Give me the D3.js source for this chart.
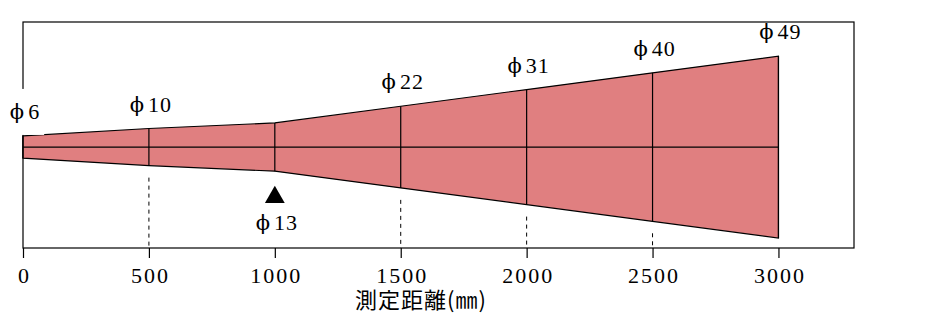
<!DOCTYPE html>
<html>
<head>
<meta charset="utf-8">
<script src="https://cdn.jsdelivr.net/npm/d3@7"></script>
<style>
  body { margin: 0; background: #fff; }
  svg text { font-family: "Liberation Serif", "Noto Sans CJK JP", serif; fill: #000; }
</style>
</head>
<body>
<svg id="chart" width="945" height="315"></svg>
<script>
// measuring distance (mm) and spot diameter (mm)
const distances = [0, 500, 1000, 1500, 2000, 2500, 3000];
const diameters = [6, 10, 13, 22, 31, 40, 49];
const tickValues = [0, 500, 1000, 1500, 2000, 2500, 3000];
const dashedAt = [500, 1500, 2000, 2500];
const markerDistance = 1000;   // label drawn below with a triangle
const xLabel = "測定距離(㎜)";

let SVG = d3.select("#chart");
let margin = {top: 22, right: 91, bottom: 67, left: 23};
let width = 945 - margin.left - margin.right;
let height = 315 - margin.top - margin.bottom;

let x = d3.scaleLinear().domain([0, 3300]).range([0, width]);
// vertical: offset from the beam axis, mm
let y = d3.scaleLinear().domain([-27.2, 33.7]).range([height, 0]);

let g = SVG.append("g")
    .attr("transform", "translate(" + margin.left + "," + margin.top + ")");

let pts = distances.map((d, i) => ({dist: d, dia: diameters[i]}));

// frame
g.append("rect")
    .attr("width", width).attr("height", height)
    .attr("fill", "none")
    .attr("stroke", "#000")
    .attr("stroke-width", 1.2);

// beam cone
let upper = pts.map(p => [x(p.dist), y(p.dia / 2)]);
let lower = pts.map(p => [x(p.dist), y(-p.dia / 2)]).reverse();
g.append("path")
    .attr("d", d3.line()(upper.concat(lower)) + "Z")
    .attr("fill", "#e07f80")
    .attr("stroke", "#000")
    .attr("stroke-width", 1.2);

// centre line and section lines
g.append("line")
    .attr("x1", x(0)).attr("x2", x(d3.max(distances)))
    .attr("y1", y(0)).attr("y2", y(0))
    .attr("stroke", "#000").attr("stroke-width", 1.2);

g.selectAll(".section")
    .data(pts)
    .enter()
    .append("line")
    .attr("class", "section")
    .attr("x1", p => x(p.dist)).attr("x2", p => x(p.dist))
    .attr("y1", p => y(p.dia / 2)).attr("y2", p => y(-p.dia / 2))
    .attr("stroke", "#000").attr("stroke-width", 1.2);

// dashed drop lines
g.selectAll(".drop")
    .data(pts.filter(p => dashedAt.includes(p.dist)))
    .enter()
    .append("line")
    .attr("class", "drop")
    .attr("x1", p => x(p.dist)).attr("x2", p => x(p.dist))
    .attr("y1", p => y(-p.dia / 2) + 12).attr("y2", height)
    .attr("stroke", "#000").attr("stroke-width", 1)
    .attr("stroke-dasharray", "4,4");

// x axis
let axis = g.append("g")
    .attr("transform", "translate(0," + height + ")")
    .call(d3.axisBottom(x).tickValues(tickValues).tickSize(10).tickPadding(9).tickFormat(d3.format("d")));
axis.select(".domain").remove();
axis.selectAll("line").attr("stroke", "#000").attr("stroke-width", 1.2);
axis.selectAll("text")
    .attr("dx", "1px")
    .style("font-family", '"Liberation Serif", serif')
    .style("font-size", "22px")
    .style("letter-spacing", "2px");

g.append("text")
    .attr("x", 398)
    .attr("y", height + 60)
    .attr("text-anchor", "middle")
    .style("font-family", '"Noto Sans CJK JP", sans-serif')
    .style("font-size", "22px")
    .style("letter-spacing", "1px")
    .text(xLabel);

// diameter labels: phi glyph + value
function diaLabel(sel) {
    sel.append("tspan")
        .style("font-family", '"DejaVu Serif", serif')
        .style("font-size", "21px")
        .text("ϕ");
    sel.append("tspan")
        .attr("dx", "4px")
        .style("letter-spacing", "1px")
        .text(p => p.dia);
}

let above = pts.filter(p => p.dist !== markerDistance);
let labels = g.selectAll(".dia")
    .data(above)
    .enter()
    .append("text")
    .attr("class", "dia")
    .attr("x", p => x(p.dist) + 2)
    .attr("y", p => y(p.dia / 2) - 17)
    .attr("text-anchor", "middle")
    .style("font-size", "22px")
    .call(diaLabel);

// white box behind the first label breaks the frame's left edge
let first = labels.filter((p, i) => i === 0);
let bb = first.node().getBBox();
g.insert("rect", ".dia")
    .attr("x", bb.x - 4).attr("y", bb.y - 10)
    .attr("width", bb.width + 8).attr("height", y(pts[0].dia / 2) - bb.y + 9)
    .attr("fill", "#fff");

// marker below the reference distance
let mk = pts.find(p => p.dist === markerDistance);
g.append("path")
    .attr("d", d3.symbol().type(d3.symbolTriangle).size(170))
    .attr("transform", "translate(" + x(mk.dist) + "," + (y(-mk.dia / 2) + 26) + ")")
    .attr("fill", "#000");
g.append("text")
    .datum(mk)
    .attr("x", x(mk.dist) + 2)
    .attr("y", y(-mk.dia / 2) + 59)
    .attr("text-anchor", "middle")
    .style("font-size", "22px")
    .call(diaLabel);
</script>
</body>
</html>
